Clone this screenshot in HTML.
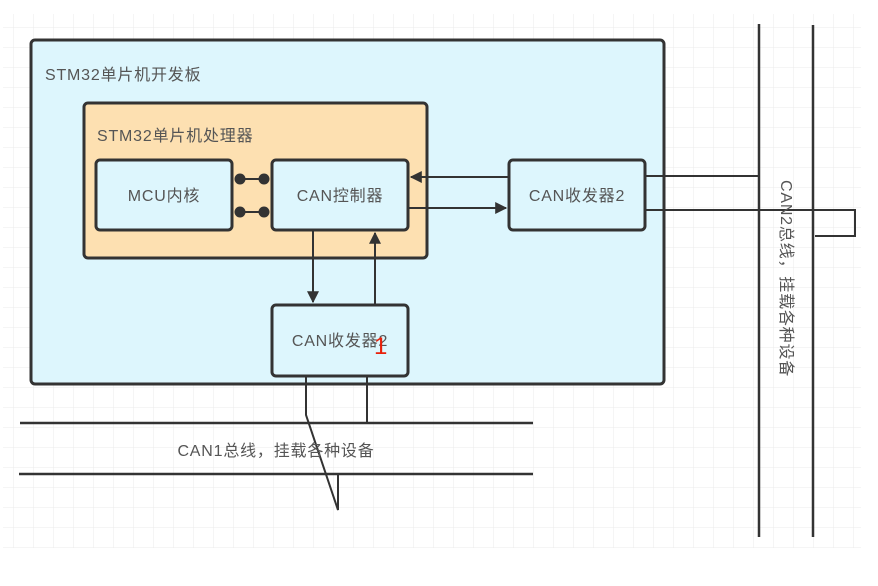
<!DOCTYPE html>
<html><head><meta charset="utf-8"><style>
body{margin:0;background:#fff;}
svg{display:block;}
text{font-family:"Liberation Sans","Noto Sans CJK SC",sans-serif;fill:#555;}
</style></head><body>
<svg width="878" height="586" viewBox="0 0 878 586" xmlns="http://www.w3.org/2000/svg">
<defs>
<pattern id="g" x="13" y="7" width="20" height="20" patternUnits="userSpaceOnUse">
<path d="M0 0H20M0 0V20" stroke="#ebebeb" stroke-width="1" fill="none"/>
</pattern>
<marker id="a" viewBox="0 0 10 10" refX="9" refY="5" markerWidth="6" markerHeight="6" orient="auto"><path d="M0 0L10 5L0 10z" fill="#333"/></marker>
</defs>
<rect x="3" y="14" width="858" height="534" fill="url(#g)"/>
<g stroke="#333" stroke-width="3" fill="none">
<rect x="31" y="40" width="633" height="344" rx="4" fill="#ddf6fd"/>
<rect x="84" y="103" width="343" height="155" rx="4" fill="#fde0b1"/>
<rect x="96" y="160" width="136" height="70" rx="4" fill="#ddf6fd"/>
<rect x="272" y="160" width="136" height="70" rx="4" fill="#ddf6fd"/>
<rect x="509" y="160" width="136" height="70" rx="4" fill="#ddf6fd"/>
<rect x="272" y="305" width="136" height="71" rx="4" fill="#ddf6fd"/>
</g>
<g stroke="#333" stroke-width="2" fill="none">
<line x1="240" y1="179" x2="264" y2="179"/>
<line x1="240" y1="212" x2="264" y2="212"/>
<line x1="509" y1="177" x2="411" y2="177" marker-end="url(#a)"/>
<line x1="408" y1="208" x2="506" y2="208" marker-end="url(#a)"/>
<line x1="313" y1="230" x2="313" y2="302" marker-end="url(#a)"/>
<line x1="375" y1="305" x2="375" y2="233" marker-end="url(#a)"/>
<polyline points="306,376 306,415 338,510 338,474"/>
<line x1="367" y1="376" x2="367" y2="423"/>
<line x1="20" y1="423" x2="533" y2="423" stroke-width="2.5"/>
<line x1="19" y1="474" x2="533" y2="474" stroke-width="2.5"/>
<line x1="759" y1="24" x2="759" y2="537" stroke-width="2.5"/>
<line x1="813" y1="25" x2="813" y2="537" stroke-width="2.5"/>
<line x1="645" y1="176" x2="759" y2="176"/>
<polyline points="645,210 855,210 855,236 815,236"/>
</g>
<g fill="#333">
<circle cx="240" cy="179" r="5.5"/><circle cx="264" cy="179" r="5.5"/>
<circle cx="240" cy="212" r="5.5"/><circle cx="264" cy="212" r="5.5"/>
</g>
<g font-size="16" letter-spacing="0.8">
<text x="45" y="80">STM32单片机开发板</text>
<text x="97" y="141">STM32单片机处理器</text>
<text x="164" y="201" text-anchor="middle">MCU内核</text>
<text x="340" y="201" text-anchor="middle">CAN控制器</text>
<text x="577" y="201" text-anchor="middle">CAN收发器2</text>
<text x="340" y="346" text-anchor="middle">CAN收发器2</text>
<text x="276" y="456" text-anchor="middle">CAN1总线，挂载各种设备</text>
<text x="0" y="0" transform="translate(781,180) rotate(90)">CAN2总线，挂载各种设备</text>
</g>
<text x="374" y="354" font-size="24" style="fill:#e8200a">1</text>
</svg>
</body></html>
